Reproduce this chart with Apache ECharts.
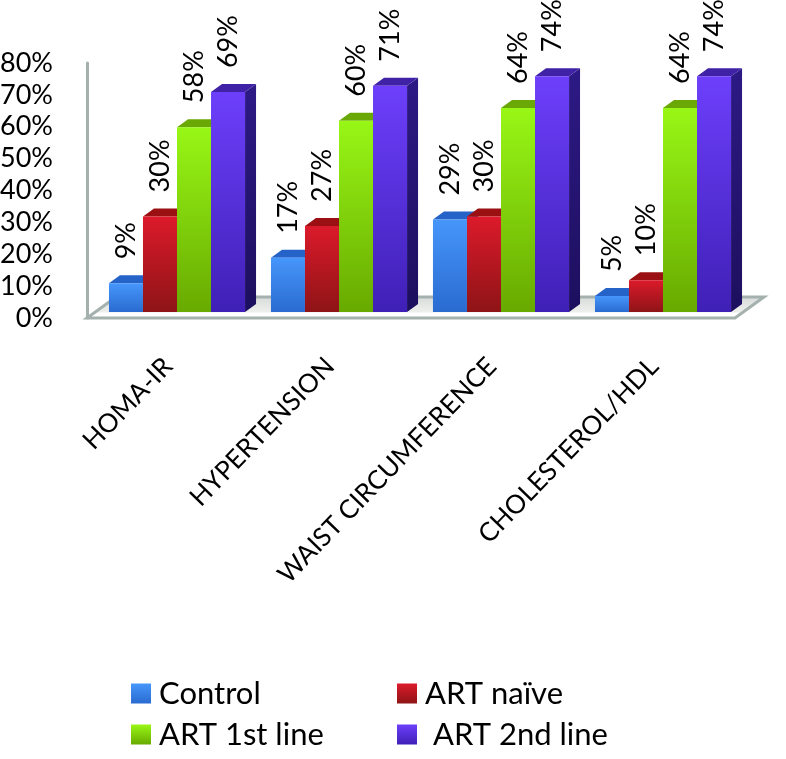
<!DOCTYPE html>
<html><head><meta charset="utf-8">
<style>html,body{margin:0;padding:0;background:#fff}#c{width:786px;height:759px}</style>
<script src="https://cdn.jsdelivr.net/npm/echarts@6/dist/echarts.min.js"></script>
</head><body><div id="c"></div>
<script>
const categories = ['HOMA-IR','HYPERTENSION','WAIST CIRCUMFERENCE','CHOLESTEROL/HDL'];
const control = [9,17,29,5];
const artNaive = [30,27,30,10];
const art1st = [58,60,64,64];
const art2nd = [69,71,74,74];
const seriesNames = ['Control','ART naïve','ART 1st line','ART 2nd line'];
const seriesValues = [control,artNaive,art1st,art2nd];
const FONT = 'Lato, "Open Sans", sans-serif';
const grad=(a,b)=>new echarts.graphic.LinearGradient(0,0,0,1,[{offset:0,color:a},{offset:1,color:b}]);
const palette=[
 {front:['#4696fb','#2a6bd0'],top:'#2563c9',side:'#1c4a9a'},
 {front:['#dc1a2b','#8e1416'],top:'#9a1013',side:'#6e0c0e'},
 {front:['#98f716','#68aa00'],top:'#6aa905',side:'#4d7d00'},
 {front:['#6d3ffb','#3f20b6'],top:'#3f22a6',side:'#2d1a85'}
];
const DX=11,DY=-8,OX=9,OY=-6;
function barItem(si){return function(params,api){
  const c=api.coord([api.value(0),api.value(1)]);
  const z=api.coord([api.value(0),0]);
  const band=api.size([1,0])[0];
  const w=band*0.21;
  const x=c[0]+OX-2*w+si*w, r=x+w, t=c[1]+OY, b=z[1]+OY;
  const p=palette[si];
  const v=api.value(1);
  return {type:'group',children:[
    {type:'polygon',shape:{points:[[r,t],[r+DX,t+DY],[r+DX,b+DY],[r,b]]},style:{fill:grad(p.side,'#1d0f5e')}},
    {type:'polygon',shape:{points:[[x,t],[x+DX,t+DY],[r+DX,t+DY],[r,t]]},style:{fill:p.top}},
    {type:'rect',shape:{x:x,y:t,width:w,height:b-t},style:{fill:grad(p.front[0],p.front[1])}},
    {type:'text',x:x+w/2,y:t-24,rotation:Math.PI/2,
      style:{text:v+'%',fill:'#000',font:'27px '+FONT,textAlign:'left',textVerticalAlign:'middle'}}
  ]};
};}
function floorItem(params,api){
  const cs=params.coordSys;
  const l=cs.x,r=cs.x+cs.width,b=cs.y+cs.height;
  const bk=b-21;
  return {type:'group',silent:true,children:[
    {type:'polygon',shape:{points:[[l,b],[r,b],[r+29,bk],[l+29,bk]]},
      style:{fill:new echarts.graphic.LinearGradient(0,0,0,1,[{offset:0,color:'#d5dad7'},{offset:0.7,color:'#eef0ee'},{offset:0.72,color:'#ffffff'},{offset:1,color:'#ffffff'}]),
      stroke:'#a4b1ae',lineWidth:3,lineJoin:'miter'}}
  ]};
}
const series=[{type:'custom',name:'floor',renderItem:floorItem,data:[[0,0]],z:1,silent:true,clip:false,encode:{x:0,y:1}}];
seriesNames.forEach((n,si)=>{
  series.push({type:'custom',name:n,renderItem:barItem(si),clip:false,z:2+si,
    itemStyle:{color:grad(palette[si].front[0],palette[si].front[1])},
    encode:{x:0,y:1},
    data:seriesValues[si].map((v,i)=>[i,v])});
});
const leg=(n,left,top,pad)=>({data:[{name:n,icon:'rect'}],left:left,top:top,orient:'horizontal',itemWidth:20,itemHeight:20,itemGap:0,padding:0,
  selectedMode:false,textStyle:{fontFamily:FONT,fontSize:31,color:'#000',padding:[0,0,0,pad]}});
const chart=echarts.init(document.getElementById('c'),null,{renderer:'canvas'});
chart.setOption({
  animation:false,backgroundColor:'#fff',
  grid:{left:87,right:51,top:63,bottom:441,containLabel:false,outerBoundsMode:'none'},
  legend:[leg(seriesNames[0],131,678,3),leg(seriesNames[1],397,678,3),leg(seriesNames[2],131,719,3),leg(seriesNames[3],397,719,11)],
  xAxis:{type:'category',data:categories,axisLine:{show:false},axisTick:{show:false},
    axisLabel:{rotate:46,interval:0,margin:44,fontFamily:FONT,fontSize:26,color:'#000'}},
  yAxis:{type:'value',min:0,max:80,interval:10,splitLine:{show:false},axisTick:{show:false},
    axisLine:{show:true,lineStyle:{color:'#a4b1ae',width:3}},
    axisLabel:{margin:34,fontFamily:FONT,fontSize:27,color:'#000',formatter:'{value}%'}},
  series:series
});
</script></body></html>
